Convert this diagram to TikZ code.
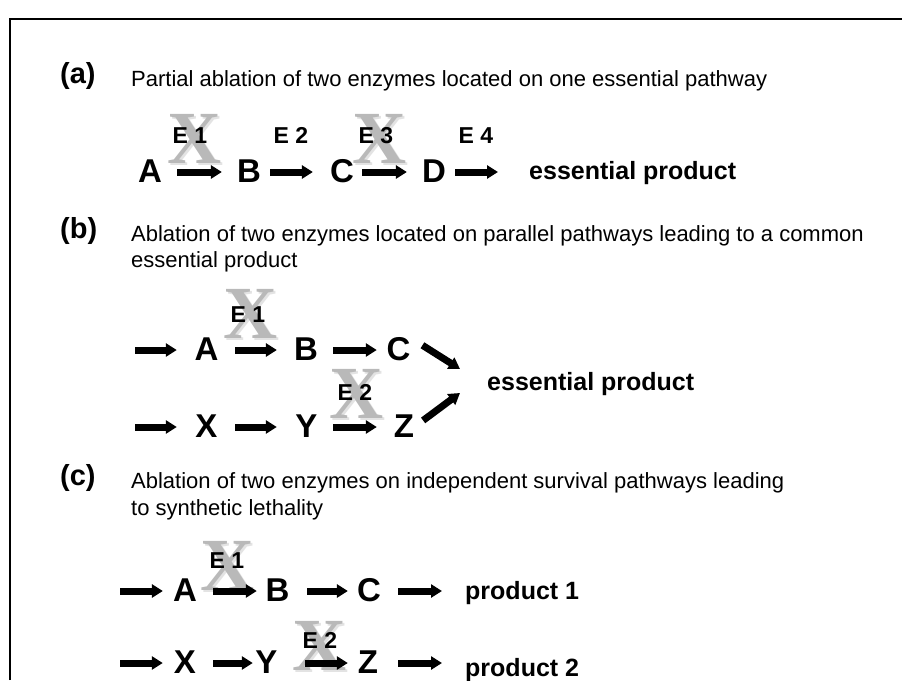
\documentclass[tikz,border=0pt]{standalone}
\usepackage{fontspec}
\setmainfont{Liberation Sans}
\newfontfamily\serifx{Liberation Serif}
\usetikzlibrary{arrows.meta}
\tikzset{
  lt/.style={font=\fontsize{33}{33}\selectfont\bfseries, inner sep=0pt, text height=22pt, text depth=2pt, anchor=base},
  enz/.style={font=\fontsize{23}{23}\selectfont\bfseries, inner sep=0pt, anchor=base},
  xmark/.style={font=\fontsize{75}{75}\selectfont\serifx\bfseries, text=gray!55, inner sep=0pt, anchor=base},
  xshadow/.style={font=\fontsize{75}{75}\selectfont\serifx\bfseries, text=gray!22, inner sep=0pt, anchor=base},
  desc/.style={font=\fontsize{22}{26}\selectfont, inner sep=0pt, anchor=base west},
  lab/.style={font=\fontsize{29}{29}\selectfont\bfseries, inner sep=0pt, anchor=base west},
  prod/.style={font=\fontsize{25}{25}\selectfont\bfseries, inner sep=0pt, anchor=base west},
  arr/.style={line width=7pt, -{Triangle[length=11pt,width=13pt]}},
  frame/.style={line width=2.5pt, line join=miter}
}
\begin{document}
\begin{tikzpicture}[x=1pt,y=-1pt]
\useasboundingbox (0,0) rectangle (902,680);
\fill[white] (0,0) rectangle (902,680);
\draw[frame] (10,680) -- (10,19) -- (902,19);

% ---------- (a) ----------
\node[lab] (la) at (60,83) {(a)};
\node[desc] (ta) at (131,86) {Partial ablation of two enzymes located on one essential pathway};
\node[xshadow] (xa1s) at (197,165) {X};
\node[xmark] (xa1) at (195,163) {X};
\node[xshadow] (xa3s) at (382,165) {X};
\node[xmark] (xa3) at (380,163) {X};
\node[enz] (ea1) at (190,143) {E 1};
\node[enz] (ea2) at (291,143) {E 2};
\node[enz] (ea3) at (376,143) {E 3};
\node[enz] (ea4) at (476,143) {E 4};
\node[lt] (aA) at (150,182) {A};
\node[lt] (aB) at (249,182) {B};
\node[lt] (aC) at (342,182) {C};
\node[lt] (aD) at (434,182) {D};
\node[prod] (aep) at (529,179) {essential product};
\draw[arr, shorten <=15pt, shorten >=15pt] (aA) -- (aB);
\draw[arr, shorten <=9pt, shorten >=17pt] (aB) -- (aC);
\draw[arr, shorten <=8pt, shorten >=15pt] (aC) -- (aD);
\draw[arr, shorten <=9pt, shorten >=31pt] (aD) -- (aD -| aep.west);

% ---------- (b) ----------
\node[lab] (lb) at (60,238) {(b)};
\node[desc] (tb1) at (131,241) {Ablation of two enzymes located on parallel pathways leading to a common};
\node[desc] (tb2) at (131,267) {essential product};
\node[xshadow] (xb1s) at (253,340) {X};
\node[xmark] (xb1) at (251,338) {X};
\node[xshadow] (xb2s) at (359,420) {X};
\node[xmark] (xb2) at (357,418) {X};
\node[enz] (eb1) at (248,322) {E 1};
\node[enz] (eb2) at (355,400) {E 2};
\node[lt] (bA) at (206.5,360) {A};
\node[lt] (bB) at (306,360) {B};
\node[lt] (bC) at (398.5,360) {C};
\node[lt] (bX) at (206.5,437) {X};
\node[lt] (bY) at (306.5,437) {Y};
\node[lt] (bZ) at (404,437) {Z};
\node[prod] (bep) at (487,390) {essential product};
\coordinate (bs1) at (135,350);
\coordinate (bs2) at (135,427);
\coordinate (bj1) at (460,369);
\coordinate (bj2) at (460,393);
\draw[arr, shorten >=17.6pt] (bs1) -- (bA);
\draw[arr, shorten <=16.6pt, shorten >=17pt] (bA) -- (bB);
\draw[arr, shorten <=15pt, shorten >=9.6pt] (bB) -- (bC);
\draw[arr, shorten <=14pt] (bC.north east) -- (bj1);
\draw[arr, shorten >=18.5pt] (bs2) -- (bX);
\draw[arr, shorten <=17.5pt, shorten >=18.5pt] (bX) -- (bY);
\draw[arr, shorten <=15.5pt, shorten >=16.9pt] (bY) -- (bZ);
\draw[arr, shorten <=11pt] (bZ.east) -- (bj2);

% ---------- (c) ----------
\node[lab] (lc) at (60,485) {(c)};
\node[desc] (tc1) at (131,488) {Ablation of two enzymes on independent survival pathways leading};
\node[desc] (tc2) at (131,515) {to synthetic lethality};
\node[xshadow] (xc1s) at (230,592) {X};
\node[xmark] (xc1) at (228,590) {X};
\node[xshadow] (xc2s) at (322,672) {X};
\node[xmark] (xc2) at (320,670) {X};
\node[enz] (ec1) at (227,568) {E 1};
\node[enz] (ec2) at (320,648) {E 2};
\node[lt] (cA) at (185,601) {A};
\node[lt] (cB) at (277.5,601) {B};
\node[lt] (cC) at (369,601) {C};
\node[lt] (cX) at (185,673) {X};
\node[lt] (cY) at (266.5,673) {Y};
\node[lt] (cZ) at (368,673) {Z};
\node[prod] (cp1) at (465,599) {product 1};
\node[prod] (cp2) at (465,676) {product 2};
\coordinate (cs1) at (120,591);
\coordinate (cs2) at (120,663);
\draw[arr, shorten >=10pt] (cs1) -- (cA);
\draw[arr, shorten <=16pt, shorten >=8.6pt] (cA) -- (cB);
\draw[arr, shorten <=17.6pt, shorten >=9pt] (cB) -- (cC);
\draw[arr, shorten <=17pt, shorten >=23pt] (cC) -- (cC -| cp1.west);
\draw[arr, shorten >=11pt] (cs2) -- (cX);
\draw[arr, shorten <=17pt, shorten >=2.5pt] (cX) -- (cY);
\draw[arr, shorten <=27.5pt, shorten >=9.9pt] (cY) -- (cZ);
\draw[arr, shorten <=20pt, shorten >=23pt] (cZ) -- (cZ -| cp2.west);
\end{tikzpicture}
\end{document}
